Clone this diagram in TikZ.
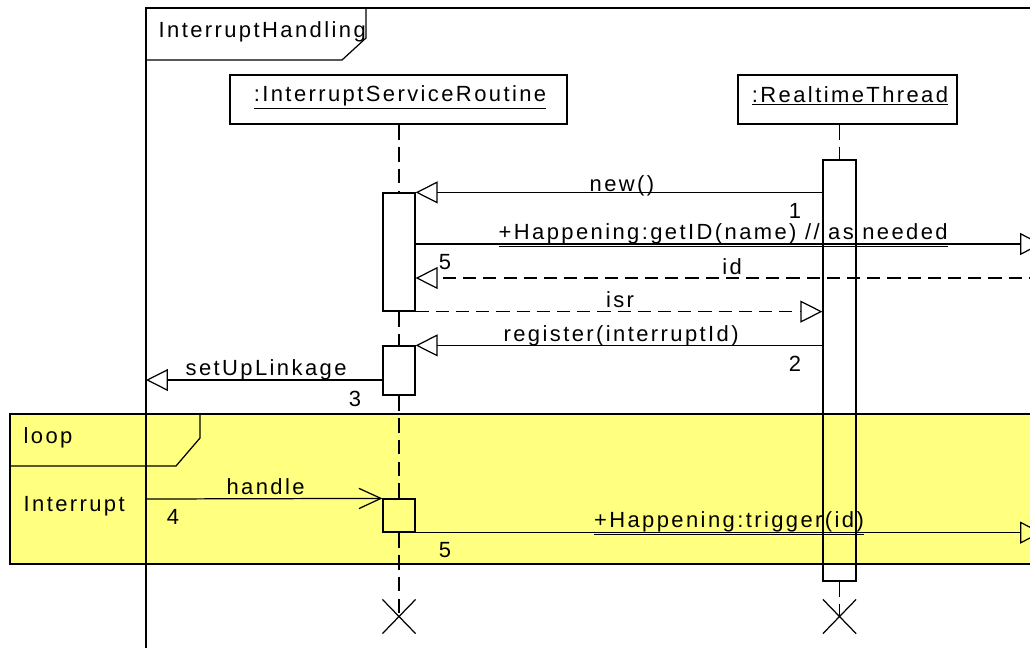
\documentclass[tikz,border=0pt]{standalone}
\usepackage{fontspec}
\setmainfont{Liberation Sans}[LetterSpace=11]
\usepackage{xcolor}
\usetikzlibrary{arrows.meta,shapes.misc}
\definecolor{loopyellow}{RGB}{255,255,128}

\begin{document}
\begin{tikzpicture}[x=0.02cm,y=-0.02cm,line width=0.7pt,
    every node/.style={inner sep=0pt,font=\fontsize{12.5}{15}\selectfont},
    objbox/.style={draw,minimum height=0.98cm},
    actbar/.style={draw,minimum width=0.64cm},
    lifeline/.style={dash pattern=on 8.5pt off 4pt},
    msg/.style={-{Triangle[open,length=12.5pt,width=12.5pt]}},
    reply/.style={msg,dash pattern=on 7.5pt off 4pt},
    call/.style={-{Straight Barb[length=12.5pt,width=11.5pt]}},
    endmark/.style={draw,cross out,minimum width=0.64cm,minimum height=0.66cm}]
    \clip (0,0) rectangle (1030,647);
    % loop fragment
    \fill [loopyellow] (10,414) rectangle (1040,564);
    \draw (1040,414) -- (10,414) -- (10,564) -- (1040,564);
    \draw (200,414) -- (200,438) -- (176,466) -- (10,466);
    \node [anchor=base west] (looplbl) at (23,443) {loop};
    \node [anchor=base west] (guard) at (23,511) {Interrupt};
    % outer frame
    \draw (1040,8) -- (146,8) -- (146,660);
    \draw (366,8) -- (366,38) -- (342,60) -- (146,60);
    \node [anchor=base west] (framelbl) at (158,37) {InterruptHandling};
    % lifelines
    \node [objbox,minimum width=6.74cm] (isrbox) at (398.5,99.5) {};
    \node [anchor=base] at (400,101) {\underline{:InterruptServiceRoutine}};
    \node [objbox,minimum width=4.38cm] (rtbox) at (847.5,99.5) {};
    \node [anchor=base] at (850,102) {\underline{:RealtimeThread}};
    \node [actbar,minimum width=0.66cm,minimum height=8.42cm] (rtbar) at (839.5,370.5) {};
    \node [actbar,minimum height=2.36cm] (act1) at (399,252) {};
    \node [actbar,minimum height=0.98cm] (act2) at (399,370.5) {};
    \node [actbar,minimum height=0.66cm] (act3) at (399,515.5) {};
    \node [endmark] (isrend) at (399,616.5) {};
    \node [endmark] (rtend) at (839.5,616.5) {};
    \draw [lifeline] (act1.north |- isrbox.south) -- (act1.north);
    \draw [lifeline] (act1.south) -- (act2.north);
    \draw [lifeline] (act2.south) -- (act3.north);
    \draw [lifeline] (act3.south) -- (isrend.center);
    \draw [lifeline] (rtbar.north |- rtbox.south) -- (rtbar.north);
    \draw [lifeline] (rtbar.south) -- (rtend.center);
    % messages
    \coordinate (getidend) at (1042,244);
    \coordinate (idstart) at (1042,278);
    \coordinate (linkend) at (146,380);
    \coordinate (irqsrc) at (146,499);
    \coordinate (trigend) at (1042,532);
    \draw [msg] (act1.north east -| rtbar.west) -- (act1.north east);
    \node [anchor=base] (newlbl) at (622,191) {new()};
    \node [anchor=base] (seq1) at (795,218) {1};
    \draw [msg] (act1.east |- getidend) -- (getidend);
    \node [anchor=base west] (getidlbl) at (498,239) {\underline{+Happening:getID(name) // as needed}};
    \draw [reply] (idstart) -- (act1.east |- idstart);
    \node [anchor=base] (idlbl) at (732,274) {id};
    \node [anchor=base] (seq5a) at (445,269) {5};
    \draw [reply] (act1.south east) -- (act1.south east -| rtbar.west);
    \node [anchor=base] (isrlbl) at (620,307) {isr};
    \draw [msg] (act2.north east -| rtbar.west) -- (act2.north east);
    \node [anchor=base west] (reglbl) at (503,341) {register(interruptId)};
    \node [anchor=base] (seq2) at (795,371) {2};
    \draw [msg] (act2.west |- linkend) -- (linkend);
    \node [anchor=base west] (linklbl) at (185,375) {setUpLinkage};
    \node [anchor=base] (seq3) at (355,406) {3};
    \draw [call] (irqsrc) -- (act3.north west);
    \node [anchor=base west] (handlelbl) at (226,494) {handle};
    \node [anchor=base] (seq4) at (173,524) {4};
    \draw [msg] (act3.south east) -- (act3.south east -| trigend);
    \node [anchor=base] (triglbl) at (729,527) {\underline{+Happening:trigger(id)}};
    \node [anchor=base] (seq5b) at (445,557) {5};
\end{tikzpicture}
\end{document}
